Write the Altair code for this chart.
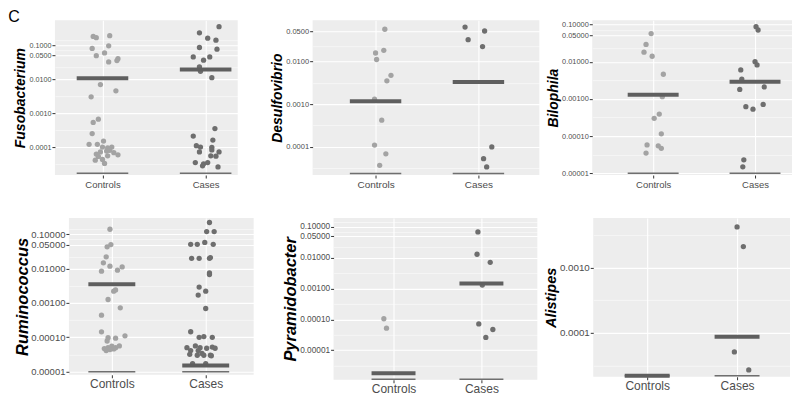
import altair as alt
import pandas as pd

FONT = "Liberation Sans"
groups = ["Controls", "Cases"]
point_colors = ["#A3A3A3", "#6E6E6E"]

# ---------------- data ----------------
# Fusobacterium
fuso_ctrl = [0.18, 0.165, 0.19, 0.080, 0.095, 0.059, 0.049, 0.040, 0.032, 0.035, 0.0069, 0.0045,
             0.0030, 0.00066, 0.00053, 0.00025, 1.2e-4, 1.2e-4, 1.5e-4, 1.0e-4, 9.5e-5, 1.0e-4,
             7.2e-5, 7.6e-5, 6.2e-5, 6.8e-5, 5.9e-5, 5.3e-5, 5.5e-5, 4.3e-5, 4.1e-5, 3.3e-5, 8.0e-5]
fuso_ctrl_jit = [-0.09, -0.06, 0.07, -0.10, 0.06, 0.02, -0.06, 0.15, 0.06, 0.14, -0.02, 0.13,
                 -0.11, -0.04, -0.09, -0.10, -0.13, -0.05, 0.01, 0.00, 0.05, 0.09,
                 -0.02, 0.04, -0.06, 0.11, 0.15, -0.04, 0.05, 0.00, -0.07, 0.02, 0.07]
fuso_case = [0.35, 0.23, 0.16, 0.14, 0.085, 0.076, 0.045, 0.036, 0.045, 0.023, 0.017, 0.011,
             3.5e-4, 2.1e-4, 1.6e-4, 1.1e-4, 1.0e-4, 9.8e-5, 7.2e-5, 8.2e-5, 7.2e-5, 5.5e-5,
             5.4e-5, 3.5e-5, 3.2e-5, 3.5e-5, 2.6e-5, 2.8e-5]
fuso_case_jit = [0.13, -0.06, 0.02, 0.10, -0.06, 0.11, -0.12, -0.02, 0.04, -0.06, -0.05, 0.06,
                 0.09, -0.12, 0.07, -0.09, -0.05, 0.06, -0.06, 0.06, 0.13, 0.05,
                 0.10, -0.10, -0.02, 0.02, 0.12, -0.03]
fuso_median = [0.0105, 0.019]
fuso_zero = 1.7e-5

# Desulfovibrio
desu_ctrl = [0.056, 0.018, 0.0156, 0.011, 0.0047, 0.0035, 0.0013, 4.2e-4, 1.1e-4, 6.9e-5, 3.7e-5]
desu_ctrl_jit = [0.09, 0.08, 0.00, 0.01, 0.15, 0.11, -0.01, 0.06, -0.01, 0.10, 0.04]
desu_case = [0.063, 0.051, 0.032, 0.022, 1.0e-4, 5.3e-5, 3.4e-5]
desu_case_jit = [-0.13, 0.06, -0.10, 0.04, 0.13, 0.05, 0.08]
desu_median = [0.00117, 0.0033]
desu_zero = 2.4e-5

# Bilophila
bilo_ctrl = [0.057, 0.029, 0.018, 0.014, 0.0046, 0.00115, 3.9e-4, 3.0e-4, 1.15e-4, 5.8e-5,
             5.5e-5, 4.7e-5, 3.5e-5]
bilo_ctrl_jit = [-0.02, -0.07, -0.09, -0.01, 0.10, 0.09, 0.06, 0.01, 0.08, -0.06, 0.05, 0.08, -0.07]
bilo_case = [0.087, 0.071, 0.010, 0.0082, 0.0060, 0.0034, 0.0021, 0.0018, 6.2e-4, 5.3e-4,
             7.1e-4, 2.3e-5, 1.5e-5]
bilo_case_jit = [0.01, 0.03, 0.00, 0.02, -0.14, -0.13, 0.09, -0.15, -0.09, -0.02, 0.08, -0.11, -0.12]
bilo_median = [0.0013, 0.0029]
bilo_zero = 1.0e-5

# Ruminococcus
rumi_ctrl = [0.14, 0.043, 0.050, 0.022, 0.0147, 0.0118, 0.0084, 0.0090, 0.0112, 0.0024, 0.0022,
             0.00126, 7.2e-4, 4.4e-4, 1.44e-4, 9.7e-5, 9.4e-5, 1.1e-4, 7.8e-5, 4.7e-5, 5.0e-5,
             5.5e-5, 5.0e-5, 5.6e-5, 4.1e-5, 4.6e-5, 4.4e-5]
rumi_ctrl_jit = [-0.02, -0.05, -0.01, -0.06, -0.09, -0.02, -0.11, 0.06, 0.11, 0.04, 0.02,
                 -0.04, 0.09, -0.11, -0.11, -0.04, 0.04, 0.14, -0.05, -0.08, -0.04,
                 0.00, 0.04, 0.08, -0.06, 0.02, -0.02]
rumi_case = [0.22, 0.12, 0.12, 0.051, 0.051, 0.058, 0.051, 0.020, 0.020, 0.020, 0.021, 0.0075,
             0.0067, 0.0029, 0.0022, 0.0017, 6.9e-4, 1.45e-4, 1.0e-4, 1.05e-4, 1.0e-4, 5.6e-5,
             5.0e-5, 5.0e-5, 4.8e-5, 5.2e-5, 4.8e-5, 4.1e-5, 4.1e-5, 3.4e-5, 3.0e-5, 3.0e-5,
             3.0e-5, 2.9e-5, 3.2e-5, 1.7e-5, 1.7e-5]
rumi_case_jit = [0.04, 0.01, 0.09, -0.16, -0.09, -0.01, 0.08, -0.15, -0.07, 0.04, 0.05, 0.04,
                 0.04, -0.07, 0.00, -0.08, 0.00, -0.16, -0.07, -0.02, 0.07, -0.11,
                 -0.20, -0.06, 0.01, 0.07, 0.10, -0.16, -0.08, -0.04, 0.05, -0.02,
                 -0.09, 0.06, -0.17, -0.14, 0.00]
rumi_median = [0.0035, 1.5e-5]
rumi_zero = 1.0e-5

# Pyramidobacter
pyra_ctrl = [1.05e-4, 5.2e-5]
pyra_ctrl_jit = [-0.11, -0.08]
pyra_case = [0.069, 0.013, 0.0071, 0.0013, 7.1e-5, 4.7e-5, 2.6e-5]
pyra_case_jit = [-0.04, -0.05, 0.10, 0.01, -0.03, 0.13, 0.05]
pyra_median = [1.8e-6, 0.00145]
pyra_zero = 1.15e-6

# Alistipes
alis_ctrl = []
alis_ctrl_jit = []
alis_case = [0.0042, 0.0021, 5.1e-5, 2.7e-5]
alis_case_jit = [0.00, 0.07, -0.03, 0.13]
alis_median = [2.2e-5, 8.7e-5]
alis_zero = 2.2e-5

# axis breaks
ticks_a = [0.1, 0.05, 0.01, 0.001, 0.0001]
ticks_b = [0.05, 0.01, 0.001, 0.0001]
ticks_c = [0.1, 0.05, 0.01, 0.001, 0.0001, 0.00001]
ticks_d = [0.001, 0.0001]
minor_a = [3.16e-5, 3.16e-4, 3.16e-3, 0.0224, 0.0707, 0.141]
minor_b = [3.16e-5, 3.16e-4, 3.16e-3, 0.0224, 0.112]
minor_c = [3.16e-6, 3.16e-5, 3.16e-4, 3.16e-3, 0.0224, 0.0707, 0.141]
minor_d = [3.16e-5, 3.16e-4, 3.16e-3]


def panel(name, cv, cj, kv, kj, med, zero, ydom, ticks, minors, fmt, xdom, w, h,
          lab_fs, xlab_fs, title_fs, title_pad=1):
    pts = pd.DataFrame({
        "group": ["Controls"] * len(cv) + ["Cases"] * len(kv),
        "gi": [0] * len(cv) + [1] * len(kv),
        "jit": list(cj) + list(kj),
        "value": list(cv) + list(kv),
    })
    summ = pd.DataFrame({"gi": [0, 1], "median": med, "zero": [zero, zero]})
    mins = pd.DataFrame({"m": minors})
    xs = alt.Scale(domain=xdom, nice=False, zero=False)
    ys = alt.Scale(type="log", domain=ydom, nice=False)
    xaxis = alt.Axis(values=[0, 1], labelExpr="datum.value == 0 ? 'Controls' : 'Cases'",
                     title=None, labelFontSize=xlab_fs, labelPadding=1, tickSize=3,
                     grid=True, gridColor="#FFFFFF", gridWidth=1.1, domain=False,
                     labelColor="#4D4D4D", tickColor="#333333", labelFont=FONT)
    yaxis = alt.Axis(values=ticks, format=fmt, title=name, labelFontSize=lab_fs,
                     titleFontSize=title_fs, labelPadding=1, titlePadding=title_pad, tickSize=3,
                     grid=True, gridColor="#FFFFFF", gridWidth=1.1, domain=False,
                     labelColor="#4D4D4D", tickColor="#333333", labelFont=FONT,
                     titleFont=FONT, titleFontWeight="bold", titleFontStyle="italic",
                     titleColor="#000000")
    minor_axis = alt.Axis(values=minors, grid=True, gridWidth=0.5, gridColor="#FFFFFF",
                          labels=False, ticks=False, domain=False, title=None, orient="right")

    minor_layer = alt.Chart(mins).mark_point(opacity=0).encode(
        y=alt.Y("m:Q", scale=ys, axis=minor_axis))

    points = alt.Chart(pts).transform_calculate(xp="datum.gi + datum.jit").mark_circle(
        size=28, opacity=1).encode(
        x=alt.X("xp:Q", scale=xs, axis=xaxis),
        y=alt.Y("value:Q", scale=ys, axis=yaxis),
        color=alt.Color("group:N", scale=alt.Scale(domain=groups, range=point_colors), legend=None),
    )
    base = alt.Chart(summ).transform_calculate(x1="datum.gi - 0.25", x2="datum.gi + 0.25")
    zero_line = base.mark_rule(strokeWidth=1.5, color="#6F6F6F").encode(
        x=alt.X("x1:Q", scale=xs, axis=xaxis), x2="x2:Q",
        y=alt.Y("zero:Q", scale=ys, axis=yaxis))
    med_line = base.mark_rule(strokeWidth=4, color="#5F5F5F").encode(
        x=alt.X("x1:Q", scale=xs, axis=xaxis), x2="x2:Q",
        y=alt.Y("median:Q", scale=ys, axis=yaxis))
    main = alt.layer(points, zero_line, med_line)
    return alt.layer(minor_layer, main).resolve_axis(y="independent").properties(
        width=w, height=h, view=alt.ViewBackground(fill="#EDEDED", strokeWidth=0))


def spacer():
    return alt.Chart(pd.DataFrame({"s": [0]})).mark_point(opacity=0).encode(
        x=alt.value(0), y=alt.value(0)).properties(
        width=1, height=1, view=alt.ViewBackground(fill="transparent", strokeWidth=0))


p1 = panel("Fusobacterium", fuso_ctrl, fuso_ctrl_jit, fuso_case, fuso_case_jit, fuso_median, fuso_zero,
           [1.5e-5, 0.54], ticks_a, minor_a, ".4f", [-0.461, 1.311], 183, 155, 7.2, 9.5, 14)
p2 = panel("Desulfovibrio", desu_ctrl, desu_ctrl_jit, desu_case, desu_case_jit, desu_median, desu_zero,
           [2.2e-5, 0.091], ticks_b, minor_b, ".4f", [-0.612, 1.592], 227, 155, 7.5, 10, 14)
p3 = panel("Bilophila", bilo_ctrl, bilo_ctrl_jit, bilo_case, bilo_case_jit, bilo_median, bilo_zero,
           [9e-6, 0.13], ticks_c, minor_c, ".5f", [-0.598, 1.363], 200, 155, 7.4, 9.5, 14)
p4 = panel("Ruminococcus", rumi_ctrl, rumi_ctrl_jit, rumi_case, rumi_case_jit, rumi_median, rumi_zero,
           [8.1e-6, 0.298], ticks_c, minor_c, ".5f", [-0.457, 1.511], 185, 157, 9.5, 12, 16.5, 0)
p5 = panel("Pyramidobacter", pyra_ctrl, pyra_ctrl_jit, pyra_case, pyra_case_jit, pyra_median, pyra_zero,
           [1.1e-6, 0.195], ticks_c, minor_c, ".5f", [-0.682, 1.636], 204, 162, 8.3, 12, 16.5)
p6 = panel("Alistipes", alis_ctrl, alis_ctrl_jit, alis_case, alis_case_jit, alis_median, alis_zero,
           [2.12e-5, 0.00577], ticks_d, minor_d, ".4f", [-0.6, 1.589], 197, 159, 9.8, 12, 14.5)

row1 = alt.hconcat(alt.hconcat(alt.hconcat(spacer(), p1, spacing=0), p2, spacing=33), p3, spacing=7)
row2 = alt.hconcat(alt.hconcat(alt.hconcat(spacer(), p4, spacing=0), p5, spacing=29), p6, spacing=6)

chart = alt.vconcat(row1, row2, spacing=20).properties(
    title=alt.TitleParams("C", anchor="start", fontSize=16, fontWeight="normal", font=FONT,
                          color="#000000", offset=-11),
    padding=0,
    background="#FFFFFF",
).configure_view(
    fill="#EDEDED", strokeWidth=0
)

chart.save("out.html", embed_options={"renderer": "svg", "actions": False})
